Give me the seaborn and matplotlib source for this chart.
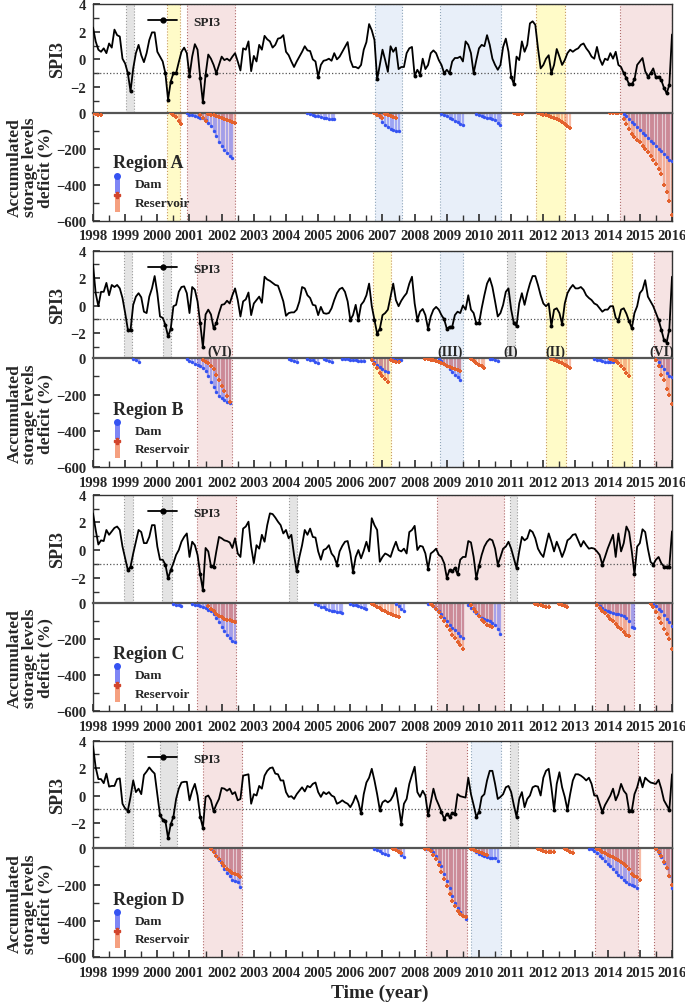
import numpy as np
import pandas as pd
import seaborn as sns
import matplotlib.pyplot as plt
from matplotlib.lines import Line2D
from matplotlib.patches import Rectangle
from matplotlib.legend_handler import HandlerBase
from matplotlib.ticker import MultipleLocator

# monthly SPI3, Jan 1998 .. Jan 2016 (one row per year)
spi_A = [2.3, 1.3, 0.7, 0.55, 0.8, 0.45, 1.15, 0.85, 2.15, 1.75, 1.65, 0.05,
         -0.3, -1.0, -2.3, -0.65, 0.45, 1.05, 0.3, -0.2, 0.45, 1.4, 1.95, 1.95,
         0.55, 0.2, -0.15, -1.0, -2.9, -1.6, -1.0, -1.0, -0.2, 0.55, 0.85, 0.45,
         -1.2, 0.2, 1.1, 0.7, -1.35, -3.1, -1.1, 0.35, 0.05, -0.4, -1.0, -0.4,
         0.2, -0.05, 0.05, -0.1, 0.2, 0.45, -0.15, -0.8, 0.8, 0.7, 1.3, -0.85,
         0.25, -0.15, 1.05, 0.7, 1.7, 1.45, 1.3, 0.85, 1.05, 1.5, 1.55, 1.75,
         0.55, 0.3, -0.15, -0.55, -0.15, 0.2, 0.55, 0.95, 0.65, 0.6, 0.0, -0.15,
         -1.25, -0.4, -0.1, -0.05, 0.05, -0.1, 0.45, 0.0, 0.2, 0.55, 0.9, 1.25,
         -0.05, -0.55, -0.55, -0.65, -0.4, 0.7, 1.25, 2.55, 2.1, 1.4, -1.45, -0.4,
         0.7, -0.05, -0.9, 0.95, 0.55, 0.85, -0.7, -0.55, -0.55, 0.45, 0.8, 0.9,
         -1.2, -0.75, -1.1, 0.05, -0.7, -0.4, 0.45, 0.65, 0.45, -0.05, -0.4, -1.0,
         -0.75, -1.0, -0.15, 0.1, 0.1, 0.2, -0.15, 1.3, 1.05, 0.45, -1.0, -0.05,
         0.8, 1.05, 0.95, 1.75, 1.05, 0.05, -0.4, -0.75, -0.4, 0.9, 1.5, 0.55,
         -1.25, -1.8, 0.2, -0.05, 1.3, 0.55, 1.05, 2.6, 2.75, 2.5, 0.8, -0.65,
         -0.4, 0.05, 0.3, -1.0, -0.4, 0.75, 0.2, -0.4, -0.05, 0.45, 0.7, 0.55,
         0.7, 0.8, 1.05, 1.15, 0.8, 0.55, 0.2, 0.05, 0.9, 0.05, -0.4, 0.05,
         -0.05, 0.45, 0.05, 0.55, -0.4, -0.55, -1.0, -1.35, -1.8, -1.8, -1.45, -0.4,
         -0.15, 0.1, -0.85, -1.25, -1.0, -0.65, -1.3, -1.25, -1.5, -2.05, -2.45, -1.85,
         1.8]
spi_B = [3.0, 0.9, -0.05, 1.0, 1.0, 1.65, 0.75, 1.5, 1.35, 1.5, 1.25, 0.55,
         -0.55, -1.75, -1.8, 0.05, 0.65, 0.9, 0.6, -0.45, -0.55, 0.65, 1.25, 2.15,
         0.9, -0.8, -0.9, -1.4, -2.25, -1.7, -0.05, 0.05, 1.0, 1.35, 1.4, 0.9,
         -0.55, 1.35, 1.15, 0.3, -1.3, -3.05, -0.65, -0.3, -0.65, -1.65, -1.3, -0.55,
         0.05, 0.1, 0.35, 0.15, 0.75, 1.25, 0.4, -0.8, 0.3, 0.45, 0.95, -0.7,
         0.15, 0.4, 0.65, 0.2, 2.1, 1.9, 1.8, 1.65, 1.5, 1.45, 0.9, 0.3,
         -0.75, -0.55, -0.5, -0.5, -0.3, 0.3, 1.35, 1.25, 0.75, 0.55, 0.05, 0.0,
         -0.7, -0.1, -0.55, -0.6, -0.55, -0.2, 0.4, 0.9, 1.2, 1.3, 1.0, 0.3,
         -1.05, -0.7, 0.05, -1.05, 0.05, 0.3, 0.75, 1.6, -0.05, -1.05, -2.05, -1.7,
         -0.7, -0.55, -0.3, 0.65, 1.6, 0.4, -0.05, 0.35, 0.65, 0.9, 1.6, 2.1,
         0.15, -1.05, -0.45, -0.25, -0.7, -1.7, -0.8, -0.3, -0.1, -0.3, -0.7, -1.0,
         -1.7, -1.55, -1.55, -0.7, -0.45, -0.55, 0.0, -0.3, 0.75, -0.3, -0.55, -1.3,
         -1.3, -0.2, 0.75, 1.6, 2.0, 1.35, 0.3, -0.8, -0.55, 0.05, 1.0, 1.25,
         -0.3, -1.3, -1.5, 0.15, 0.9, 0.05, 0.9, 1.6, 2.15, 2.15, 1.5, 0.75,
         0.15, -0.05, 0.15, -1.5, -0.3, -0.2, -0.55, -1.35, 0.15, 0.9, 1.25, 1.5,
         1.25, 1.25, 1.35, 1.15, 0.75, 0.55, 0.4, 0.15, 0.05, -0.2, -0.45, -0.3,
         -0.3, -0.05, -0.05, -0.9, -1.1, -0.3, -0.2, -0.6, -1.15, -1.65, -0.55, -0.05,
         0.9, 1.15, 1.85, 0.65, 0.3, -0.05, -0.55, -1.05, -1.75, -2.5, -2.7, -1.75,
         2.1]
spi_C = [2.65, 1.45, 0.4, 0.7, 0.65, 1.45, 1.1, 1.35, 1.6, 1.7, 1.45, 0.25,
         -0.6, -1.45, -1.2, -0.25, 0.6, 1.45, 1.3, 0.5, 0.5, 0.95, 1.8, 1.8,
         0.25, -0.7, -0.7, -1.05, -2.05, -1.45, -0.95, -0.35, 0.0, 0.6, 0.95, 1.2,
         -0.5, 0.6, 0.35, -0.35, -1.75, -2.9, 0.15, -0.1, -1.15, -1.25, -0.1, 0.95,
         0.85, 0.7, 0.65, 0.55, 0.15, 0.85, -0.25, -0.5, 1.55, 1.7, 2.05, 0.25,
         -0.95, 0.35, 0.1, 1.1, 0.6, 1.8, 2.65, 2.6, 2.35, 2.05, 1.8, 1.2,
         1.45, 0.85, 1.1, -0.35, -1.55, -0.5, 0.35, 1.45, 1.1, 1.55, 0.95, 0.9,
         -0.1, -0.7, 0.0, 0.1, 0.35, -0.25, -0.5, -1.05, -0.1, 0.3, 0.6, 0.65,
         -0.25, -1.6, -0.5, 0.0, -0.6, -0.05, 0.6, -0.1, 2.3, 1.8, 1.45, -0.85,
         -0.5, -0.25, -0.35, -0.5, 0.1, 0.6, 0.0, -0.1, 0.1, -0.25, 1.3, 1.45,
         1.75, 0.0, 0.3, 0.25, -0.25, -1.35, -0.25, -0.1, 0.1, -0.35, -0.5, -0.95,
         -2.0, -1.45, -1.55, -1.3, -1.75, -0.7, -0.5, -0.5, 0.65, 0.55, -0.5, -2.05,
         -1.15, -0.35, 0.25, 0.6, 0.8, 0.7, 0.1, -1.05, -0.5, 0.1, 0.25, 0.6,
         0.1, -0.6, -1.3, -0.1, 0.95, 0.7, 0.85, 1.45, 1.3, 0.85, 0.1, -0.25,
         -0.5, 0.35, 1.2, 0.6, -0.1, 0.6, 0.1, -0.5, 0.0, 0.7, 0.85, 1.1,
         1.15, 0.7, 0.25, 0.65, 0.35, 0.1, 0.15, 0.1, -0.1, -0.35, -1.05, -0.5,
         0.1, 0.6, 1.1, -0.5, 1.2, -0.1, 0.5, 1.7, 1.3, -0.1, -1.75, 0.25,
         0.5, 1.5, 1.3, 0.1, -0.85, -1.05, -0.7, -0.5, -0.95, -1.2, -1.2, -1.2,
         1.35]
spi_D = [3.6, 2.05, 1.2, 1.2, 0.9, 1.6, 0.65, 0.7, 0.7, 1.2, 1.25, -0.6,
         -0.95, -1.1, -0.1, 1.1, 0.25, 0.5, 0.1, 1.5, 1.75, 2.05, 1.8, 1.6,
         0.1, -1.45, -1.75, -1.85, -3.1, -2.1, -1.55, -0.25, 0.5, 0.95, 1.0, 1.0,
         -0.35, 0.35, 0.85, 0.0, -1.55, -2.35, -0.1, 0.0, -0.35, -1.15, -0.65, -0.25,
         0.55, 0.5, 0.35, 0.5, 0.1, 0.25, -0.35, -0.25, 1.45, 1.5, 1.55, -0.6,
         0.1, 0.0, 0.7, 0.5, 1.45, 1.8, 2.0, 2.05, 1.6, 1.55, 1.1, 1.1,
         0.25, -0.1, -0.05, -0.25, 0.1, 0.35, 0.6, 0.3, 0.7, 0.6, 0.85, 0.95,
         0.25, -0.1, 0.25, 0.1, 0.25, 0.0, -0.1, -0.6, -0.5, -0.35, -0.5, -0.6,
         -0.85, -0.5, 0.0, -0.5, -1.3, 0.1, 0.95, 1.3, 1.95, 1.1, 0.1, -1.05,
         -0.5, -0.35, -0.5, -0.35, 0.0, 0.55, -0.7, -2.05, -0.6, -0.25, 0.85, 1.5,
         2.1, 0.25, -0.1, 0.35, 0.0, -1.45, -0.5, 0.5, -0.25, -0.7, -1.2, -1.7,
         -1.35, -1.55, -1.3, -1.35, 0.1, -0.05, -0.1, -0.15, 1.3, 0.1, -0.7, -1.55,
         -1.2, -0.1, 0.1, 1.1, 1.8, 1.8, 0.85, -0.25, -0.1, 0.1, 0.6, 0.7,
         0.25, -0.7, -1.55, -0.25, 0.25, -0.85, -0.25, 0.0, 0.6, 0.7, 0.65, 0.0,
         1.3, 1.8, 1.95, 0.6, -1.05, 0.85, 1.7, 0.6, -0.1, -1.05, 0.1, 1.1,
         1.55, 1.55, 1.45, 1.3, 1.1, 1.3, 0.85, 0.0, 0.0, -0.6, -1.2, -0.7,
         -0.35, 0.0, 0.5, -0.35, 0.1, 0.85, 0.35, 0.1, -1.1, -1.1, 0.1, 0.6,
         1.35, 0.6, 1.3, 1.1, 0.95, 0.9, 0.85, 1.15, 0.5, -0.35, -0.7, -1.05,
         1.55]

# accumulated storage deficit episodes: (start month since Jan 1998, monthly values %)
dam_A = [(35, [-3, -10, -15, -20, -25, -28, -30, -40, -55, -75, -100, -130, -160, -185, -205, -225, -240, -252]),
         (80, [-3, -8, -12, -16, -20, -24, -28, -31, -34, -36, -37]),
         (106, [-5, -25, -50, -68, -80, -90, -97, -101, -104]),
         (130, [-5, -12, -20, -28, -36, -45, -54, -62, -67]),
         (143, [-5, -15, -20, -25, -28, -30, -35, -42, -55, -70]),
         (198, [-5, -20, -35, -50, -65, -80, -95, -110, -125, -140, -155, -170, -185, -200, -215, -230, -245, -260, -268])]
res_A = [(0, [-5, -8, -10, -12]),
         (29, [0, -12, -25, -45, -65]),
         (40, [-15, -30, -45]),
         (43, [-5, -10, -15, -20, -25, -30, -35, -40, -45, -50, -55]),
         (105, [-3, -10, -20, -30]),
         (109, [-5, -12, -18, -25, -30]),
         (157, [-3, -5, -6, -6]),
         (166, [-3, -6, -10, -14, -18, -23, -28, -35, -42, -52, -62, -72, -83]),
         (193, [-2, -2, -2, -3, -3]),
         (198, [-33, -60, -90, -117, -135, -150, -165, -185, -200, -220, -240, -260, -285, -310, -340, -400, -440, -490, -570])]

dam_B = [(15, [-5, -12, -22]),
         (35, [-5, -13, -22, -30, -37, -45, -55, -70, -100, -130, -160, -185, -205, -220, -232, -240, -246]),
         (73, [-3, -8, -15, -20]),
         (80, [-3, -8, -12, -18, -25]),
         (86, [-5, -10, -15, -18]),
         (93, [-2, -4, -6, -8, -10, -12, -14, -15, -16]),
         (104, [-5, -20, -35, -50, -60, -68, -75]),
         (111, [-3, -5, -7, -8, -8]),
         (129, [-5, -15, -30, -45, -60, -75, -90, -105, -117]),
         (148, [-3, -6, -10, -14]),
         (187, [-3, -8, -12, -15, -18, -20, -22, -23]),
         (210, [-5, -20, -40, -60, -80, -95, -102])]
res_B = [(41, [-10, -18, -25, -40, -60, -90, -120, -150, -180, -210, -238]),
         (104, [-10, -30, -55, -80, -100, -115, -128]),
         (111, [-10, -15, -20, -22]),
         (124, [-2, -5, -8, -12, -16, -20, -25, -32, -40, -48, -55, -60, -65, -70]),
         (141, [-5, -15, -25, -35, -45, -55]),
         (171, [-3, -10, -15, -20, -28, -35, -45, -52]),
         (193, [-5, -10, -15, -25, -40, -60, -80, -95]),
         (210, [-10, -45, -90, -120, -170, -200, -250])]

dam_C = [(30, [-3, -8, -12, -15]),
         (37, [-3, -8, -12, -16, -20, -28, -35, -45, -60, -80, -105, -130, -155, -175, -195, -210, -217]),
         (83, [-5, -10, -18, -23, -30, -35, -40, -45, -48, -50, -52]),
         (96, [-3, -8, -12, -15, -20, -25, -31]),
         (113, [-5, -15, -30, -40]),
         (125, [-2, -5, -15, -30, -45, -60, -80, -100, -120, -135, -150, -165, -180, -192]),
         (140, [-10, -25, -40, -55, -70, -80, -88, -95, -100, -108, -120, -145, -170]),
         (188, [-5, -15, -25, -35, -45, -50, -55, -58, -62, -65, -70, -80, -100, -130, -139]),
         (209, [-5, -15, -30, -45, -65, -85, -105, -124])]
res_C = [(43, [-15, -30, -45, -60, -70, -78, -85, -90, -95, -100, -104]),
         (104, [-5, -12, -20, -28, -36, -44, -52, -60, -66, -70, -74]),
         (126, [-5, -15, -30, -50, -75, -100, -125, -150, -175, -195, -215, -230, -254]),
         (141, [-10, -30, -50, -70, -90, -105, -118, -126, -133]),
         (165, [-3, -8, -12, -16, -20, -22]),
         (174, [-5, -10, -15, -18]),
         (188, [-10, -25, -40, -55, -70, -85, -100, -115, -130, -145, -160, -175, -180]),
         (208, [-5, -20, -50, -80, -110, -140, -170, -200, -254])]

dam_D = [(44, [-3, -20, -40, -65, -90, -115, -135, -155, -172, -182, -185, -212]),
         (105, [-3, -10, -17, -24, -30, -35]),
         (113, [-5, -20, -35, -46]),
         (124, [-2, -5, -10, -20, -45, -75, -100, -140, -180, -220, -260, -300, -330, -350, -375, -390]),
         (141, [-5, -12, -20, -30, -38, -45, -50, -52, -53, -54, -70]),
         (185, [-2, -5, -15, -25, -40, -55, -70, -85, -100, -115, -130, -145, -160, -175, -185, -195, -200, -205, -217]),
         (210, [-5, -25, -50, -80, -110, -150, -220])]
res_D = [(44, [-5, -20, -40, -60, -80, -100, -115, -125, -135, -142, -148, -158]),
         (112, [-5, -12, -18, -25]),
         (124, [-2, -5, -15, -35, -60, -90, -130, -170, -210, -250, -290, -320, -345, -360, -375, -380]),
         (141, [-5, -10, -15, -20, -25, -30, -35]),
         (166, [-5, -12, -15, -18, -20, -20, -20]),
         (176, [-5, -12, -20, -28]),
         (188, [-5, -12, -20, -28, -35, -43, -50, -58, -65, -75, -85, -100, -115, -140, -150, -160, -175]),
         (210, [-5, -20, -45, -75, -110, -150, -200])]

# drought periods (start year, end year, class)
bands_A = [(1999.03, 1999.27, 'gray'), (2000.30, 2000.70, 'yellow'), (2000.93, 2002.40, 'pink'),
           (2006.76, 2007.61, 'blue'), (2008.80, 2010.68, 'blue'), (2011.78, 2012.67, 'yellow'),
           (2014.37, 2016.0, 'pink')]
bands_B = [(1998.97, 1999.21, 'gray'), (2000.17, 2000.43, 'gray'), (2001.22, 2002.33, 'pink'),
           (2006.71, 2007.27, 'yellow'), (2008.79, 2009.49, 'blue'), (2010.86, 2011.11, 'gray'),
           (2012.08, 2012.69, 'yellow'), (2014.14, 2014.76, 'yellow'), (2015.43, 2016.0, 'pink')]
bands_C = [(1998.97, 1999.23, 'gray'), (2000.15, 2000.46, 'gray'), (2001.24, 2002.45, 'pink'),
           (2004.10, 2004.35, 'gray'), (2008.69, 2010.78, 'pink'), (2010.95, 2011.19, 'gray'),
           (2013.62, 2014.82, 'pink'), (2015.44, 2016.0, 'pink')]
bands_D = [(1999.0, 1999.23, 'gray'), (2000.07, 2000.61, 'gray'), (2001.42, 2002.63, 'pink'),
           (2008.35, 2009.64, 'pink'), (2009.76, 2010.68, 'blue'), (2010.95, 2011.21, 'gray'),
           (2013.62, 2014.94, 'pink'), (2015.44, 2016.0, 'pink')]

notes_B = [(2001.93, '(VI)'), (2009.11, '(III)'), (2010.98, '(I)'), (2012.36, '(II)'), (2015.67, '(VI)')]
years = list(range(1998, 2017))

band_colors = {'gray': ('#e4e4e4', '#9a9a9a'), 'yellow': ('#fffbc8', '#c89a60'),
               'pink': ('#f6e3e3', '#b06a6a'), 'blue': ('#e8eff9', '#8fa6bb')}
DAM_C, RES_C = '#3553f2', '#e4622e'

sns.set_theme(style='white')
plt.rcParams['font.family'] = ['Liberation Serif', 'DejaVu Serif']
plt.rcParams['font.weight'] = 'bold'
plt.rcParams['axes.labelweight'] = 'bold'


class BarMark:
    def __init__(self, bar, dot, marker):
        self.bar, self.dot, self.marker = bar, dot, marker


class BarMarkHandler(HandlerBase):
    def create_artists(self, legend, orig, xd, yd, w, h, fs, trans):
        bar = Rectangle((-xd + 0.2 * w, -yd - 0.25 * h), 0.6 * w, 1.25 * h,
                        fc=orig.bar, ec='none', transform=trans)
        dot = Line2D([-xd + 0.5 * w], [-yd + h], marker=orig.marker, ms=4, ls='none',
                     color=orig.dot, mec=orig.dot, transform=trans)
        return [bar, dot]


def episodes(eps):
    rows = []
    for start, vals in eps:
        for i, v in enumerate(vals):
            rows.append((1998 + (start + i) / 12, v))
    return pd.DataFrame(rows, columns=['t', 'v'])


W, H = 685, 1003
L, R = 93 / W, 672 / W
fig = plt.figure(figsize=(W / 100, H / 100), dpi=100)


def draw_panel(rows, spi, dam, res, bands, region, notes=()):
    top, mid, bot = rows
    ax1 = fig.add_axes([L, 1 - mid / H, R - L, (mid - top) / H])
    ax2 = fig.add_axes([L, 1 - bot / H, R - L, (bot - mid) / H])

    for x0, x1, kind in bands:
        fc, ec = band_colors[kind]
        ax1.axvspan(x0, x1, fc=fc, ec=ec, ls=':', lw=0.8, zorder=0)
        if kind != 'gray':
            ax2.axvspan(x0, x1, fc=fc, ec=ec, ls=':', lw=0.8, zorder=0)

    df = pd.DataFrame({'t': 1998 + np.arange(len(spi)) / 12, 'spi': spi})
    ax1.axhline(-1, color='#555555', ls=':', lw=0.9, zorder=1)
    sns.lineplot(data=df, x='t', y='spi', ax=ax1, color='black', lw=1.3, zorder=3)
    sns.scatterplot(data=df[df.spi <= -1.0], x='t', y='spi', ax=ax1, color='black',
                    s=8, linewidth=0, zorder=4)
    ax1.legend([Line2D([], [], color='black', lw=1.3, marker='o', ms=3.5)], ['SPI3'],
               loc='upper left', bbox_to_anchor=(0.075, 1.0), frameon=False,
               fontsize=9.5, handlelength=2.2, handletextpad=1.2)
    for x, txt in notes:
        ax1.text(x, -3.35, txt, ha='center', va='center', fontsize=10, zorder=5)

    d = episodes(dam)
    r = episodes(res)
    ax2.vlines(d.t, 0, d.v, color='#5c62ee', lw=1.6, alpha=0.5, zorder=2)
    ax2.vlines(r.t, 0, r.v, color='#f0794f', lw=1.6, alpha=0.5, zorder=2)
    sns.scatterplot(data=d, x='t', y='v', ax=ax2, color=DAM_C, marker='o', s=6,
                    linewidth=0, zorder=4)
    sns.scatterplot(data=r, x='t', y='v', ax=ax2, color=RES_C, marker='P', s=9,
                    linewidth=0, zorder=4)
    leg = ax2.legend([BarMark('#7f86f5', DAM_C, 'o'), BarMark('#f5a080', '#d2452c', 'P')],
                     ['Dam', 'Reservoir'], handler_map={BarMark: BarMarkHandler()},
                     title=f'Region {region}', loc='lower left', bbox_to_anchor=(0.025, 0.06),
                     frameon=False, fontsize=9.5, title_fontsize=13, handlelength=0.7,
                     handleheight=1.2, handletextpad=1.0, labelspacing=0.35, borderaxespad=0)
    leg._legend_box.align = 'left'

    for ax in (ax1, ax2):
        ax.set_xlim(1998, 2016)
        ax.set_xlabel('')
        ax.set_ylabel('')
        for s in ax.spines.values():
            s.set_color('#333333')
            s.set_linewidth(1.0)
    ax1.set_ylim(-3.85, 4)
    ax1.set_yticks([-2, 0, 2, 4])
    ax1.yaxis.set_minor_locator(MultipleLocator(1))
    ax1.set_xticks([])
    ax1.spines['bottom'].set_visible(False)
    ax2.set_ylim(-600, 0)
    ax2.set_yticks([-600, -400, -200, 0])
    ax2.yaxis.set_minor_locator(MultipleLocator(100))
    ax2.set_xticks(years)
    ax2.xaxis.set_minor_locator(MultipleLocator(0.5))
    ax2.spines['top'].set_color('#555555')
    ax2.spines['top'].set_linewidth(1.6)
    for ax in (ax1, ax2):
        ax.tick_params(axis='both', which='both', direction='in', left=True, bottom=True,
                       labelsize=10.5, color='#333333')
        ax.tick_params(which='major', length=5, pad=5)
        ax.tick_params(which='minor', length=4)
    ax2.tick_params(axis='x', pad=6)

    fig.text(58 / W, 1 - (top + mid) / 2 / H, 'SPI3', rotation=90, ha='center', va='center',
             fontsize=13)
    fig.text(30 / W, 1 - (mid + bot) / 2 / H, 'Accumulated\nstorage levels\ndeficit (%)',
             rotation=90, ha='center', va='center', fontsize=12.5, linespacing=0.95)


draw_panel((5, 113.7, 221.7), spi_A, dam_A, res_A, bands_A, 'A')
draw_panel((251.7, 359.3, 468.3), spi_B, dam_B, res_B, bands_B, 'B', notes_B)
draw_panel((495.7, 604.3, 712.3), spi_C, dam_C, res_C, bands_C, 'C')
draw_panel((741.7, 849.3, 958.3), spi_D, dam_D, res_D, bands_D, 'D')

fig.text(380 / W, 1 - 993 / H, 'Time (year)', ha='center', va='center', fontsize=14)

fig.savefig('out.png', dpi=100)
